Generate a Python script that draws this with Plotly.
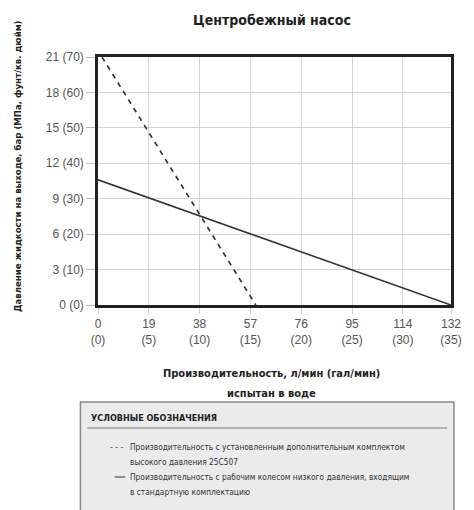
import plotly.graph_objects as go

# Data
flow_ticks = [0, 19, 38, 57, 76, 95, 114, 132]
flow_tick_labels = ["0<br>(0)", "19<br>(5)", "38<br>(10)", "57<br>(15)", "76<br>(20)",
                    "95<br>(25)", "114<br>(30)", "132<br>(35)"]
pressure_ticks = [0, 3, 6, 9, 12, 15, 18, 21]
pressure_tick_labels = ["0 (0)", "3 (10)", "6 (20)", "9 (30)", "12 (40)", "15 (50)",
                        "18 (60)", "21 (70)"]

high_pressure_flow = [1.5, 59]
high_pressure_bar = [21, 0]
standard_flow = [0, 132]
standard_bar = [10.6, 0]

OFF = 8  # page body margin
W, H = 474 - OFF, 510 - OFF
# plot area in reference page pixels
L, R, T, B = 98, 460, 57, 305
COND = "DejaVu Sans Condensed, Liberation Sans Narrow, Roboto, sans-serif"
REG = "Liberation Sans, Arial, sans-serif"


def px(x):
    return (x - L) / (R - L)


def py(y):
    return (B - y) / (B - T)


fig = go.Figure()
fig.add_trace(go.Scatter(x=high_pressure_flow, y=high_pressure_bar, mode="lines",
                         line=dict(color="#333333", width=1.6, dash="5px,5px"),
                         showlegend=False, hoverinfo="skip"))
fig.add_trace(go.Scatter(x=standard_flow, y=standard_bar, mode="lines",
                         line=dict(color="#333333", width=1.6),
                         showlegend=False, hoverinfo="skip"))

fig.update_layout(
    width=W, height=H,
    margin=dict(l=L - OFF, r=474 - R, t=T - OFF, b=510 - B),
    paper_bgcolor="white", plot_bgcolor="white",
    showlegend=False,
    xaxis=dict(range=[0, 132], tickmode="array", tickvals=flow_ticks,
               ticktext=flow_tick_labels, showgrid=True, gridcolor="#d4d4d4",
               gridwidth=1, showline=True, linecolor="#222222", linewidth=2.5,
               mirror=True, zeroline=False, ticks="outside", ticklen=6,
               tickcolor="#cccccc", tickwidth=1,
               tickfont=dict(family=REG, size=12, color="#555555"), fixedrange=True),
    yaxis=dict(range=[0, 21], tickmode="array", tickvals=pressure_ticks,
               ticktext=pressure_tick_labels, showgrid=True, gridcolor="#d4d4d4",
               gridwidth=1, showline=True, linecolor="#222222", linewidth=2.5,
               mirror=True, zeroline=False, ticks="outside", ticklen=9,
               tickcolor="#bbbbbb", tickwidth=1,
               tickfont=dict(family=REG, size=12, color="#555555"), fixedrange=True),
)


def ann(text, x, y, size, xanchor="center", angle=0, color="#222222"):
    return dict(text=text, x=px(x), y=py(y), xref="paper", yref="paper", showarrow=False,
                textangle=angle, font=dict(family=COND, size=size, color=color),
                xanchor=xanchor, yanchor="middle")


annotations = [
    ann("<b>Центробежный насос</b>", 276, 20, 14),
    ann("<b>Давление жидкости на выходе, бар (МПа, фунт/кв. дюйм)</b>", 15, 166, 9.5, angle=-90),
    ann("<b>Производительность, л/мин (гал/мин)</b>", 276, 373, 11),
    ann("<b>испытан в воде</b>", 276, 393, 11),
    ann("<b>УСЛОВНЫЕ ОБОЗНАЧЕНИЯ</b>", 89, 418, 9, xanchor="left"),
    ann("- - -", 126, 447, 8.5, xanchor="right", color="#333333"),
    ann("Производительность с установленным дополнительным комплектом", 129, 447, 8.3,
        xanchor="left", color="#333333"),
    ann("высокого давления 25C507", 129, 462, 8.3, xanchor="left", color="#333333"),
    ann("Производительность с рабочим колесом низкого давления, входящим", 129, 477, 8.3,
        xanchor="left", color="#333333"),
    ann("в стандартную комплектацию", 129, 492, 8.3, xanchor="left", color="#333333"),
]
fig.update_layout(annotations=annotations)

shapes = [
    dict(type="rect", xref="paper", yref="paper", x0=px(80), x1=px(463), y0=py(515), y1=py(402),
         fillcolor="#ebebeb", line=dict(color="#8a8a8a", width=1.5), layer="below"),
    dict(type="line", xref="paper", yref="paper", x0=px(87), x1=px(456), y0=py(428), y1=py(428),
         line=dict(color="#777777", width=1)),
    dict(type="line", xref="paper", yref="paper", x0=px(115), x1=px(126), y0=py(477), y1=py(477),
         line=dict(color="#333333", width=1)),
]
fig.update_layout(shapes=shapes)

fig.write_html("out.html")
